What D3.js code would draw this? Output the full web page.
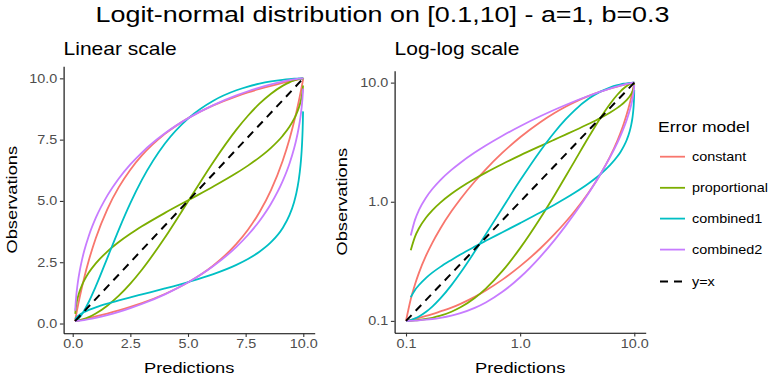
<!DOCTYPE html>
<html>
<head>
<meta charset="utf-8">
<script src="https://cdn.jsdelivr.net/npm/d3@7/dist/d3.min.js"></script>
<style>
  body { margin: 0; background: #ffffff; }
  svg text { font-family: "Liberation Sans", Arial, sans-serif; }
</style>
</head>
<body>
<script>
//x values shared by every curve (predictions)
var predictions = [
    0.1, 0.11, 0.12, 0.13, 0.15, 0.17, 0.2, 0.25, 0.3, 0.4, 0.5, 0.7, 1, 1.5, 2, 2.5, 3, 4,
    5.05,
    6.1, 7.1, 7.6, 8.1, 8.6, 9.1, 9.4, 9.6, 9.7, 9.8, 9.85, 9.9, 9.93, 9.95, 9.97, 9.98, 9.99, 10];

//observations, two curves per error model (null = not drawn)
var constant1 = [
    0.1, 0.152, 0.203, 0.254, 0.354, 0.452, 0.597, 0.831, 1.056, 1.48, 1.873, 2.58, 3.479, 4.658, 5.561, 6.275, 6.854, 7.733,
    8.398,
    8.896, 9.267, 9.424, 9.566, 9.695, 9.813, 9.878, 9.92, 9.941, 9.961, 9.971, 9.981, 9.986, 9.99, 9.994, 9.996, 9.998, 10];
var constant2 = [
    0.1, 0.102, 0.104, 0.106, 0.11, 0.114, 0.12, 0.129, 0.139, 0.159, 0.18, 0.222, 0.288, 0.405, 0.534, 0.676, 0.833, 1.204,
    1.702,
    2.367, 3.247, 3.825, 4.539, 5.442, 6.621, 7.52, 8.227, 8.62, 9.045, 9.269, 9.503, 9.648, 9.746, 9.847, 9.897, 9.948, 10];
var proportional1 = [
    0.1, 0.1003, 0.1009, 0.1017, 0.1037, 0.1061, 0.1105, 0.1194, 0.13, 0.1556, 0.1866, 0.2625, 0.4079, 0.7271, 1.135, 1.627, 2.194, 3.51,
    5.05,
    6.59, 7.906, 8.473, 8.965, 9.373, 9.692, 9.838, 9.913, 9.944, 9.97, 9.981, 9.99, 9.994, 9.996, 9.998, 9.999, 10, 10];
var proportional2 = [
    null, 0.392, 0.51, 0.599, 0.738, 0.848, 0.984, 1.166, 1.316, 1.559, 1.757, 2.077, 2.452, 2.934, 3.324, 3.66, 3.963, 4.512,
    5.05,
    5.588, 6.137, 6.44, 6.777, 7.166, 7.649, 8.023, 8.343, 8.541, 8.784, 8.934, 9.116, 9.252, 9.362, 9.501, 9.59, 9.708, null];
var combined1a = [
    0.1, 0.1017, 0.1049, 0.1089, 0.1192, 0.1317, 0.1542, 0.1995, 0.2533, 0.3815, 0.5326, 0.8877, 1.512, 2.669, 3.833, 4.91, 5.857, 7.341,
    8.398,
    9.088, 9.513, 9.663, 9.782, 9.873, 9.939, 9.968, 9.983, 9.989, 9.994, 9.996, 9.998, 9.999, 9.999, 10, 10, 10, 10];
var combined1b = [
    null, 0.158, 0.182, 0.2, 0.23, 0.254, 0.284, 0.325, 0.361, 0.42, 0.47, 0.555, 0.662, 0.812, 0.944, 1.068, 1.189, 1.43,
    1.702,
    2.016, 2.394, 2.633, 2.927, 3.316, 3.887, 4.418, 4.95, 5.323, 5.838, 6.191, 6.665, 7.055, 7.397, 7.864, 8.189, 8.652, null];
var combined2a = [
    null, 0.52, 0.708, 0.854, 1.087, 1.278, 1.52, 1.85, 2.127, 2.586, 2.965, 3.583, 4.305, 5.215, 5.917, 6.49, 6.974, 7.757,
    8.398,
    8.91, 9.304, 9.473, 9.623, 9.755, 9.868, 9.925, 9.957, 9.971, 9.984, 9.989, 9.994, 9.996, 9.998, 9.999, 9.999, 10, 10];
var combined2b = [
    0.1, 0.1002, 0.1006, 0.1011, 0.1023, 0.1037, 0.1062, 0.1109, 0.1163, 0.1287, 0.1429, 0.1754, 0.2323, 0.345, 0.4769, 0.6273, 0.7956, 1.19,
    1.702,
    2.343, 3.126, 3.61, 4.183, 4.885, 5.795, 6.517, 7.135, 7.514, 7.973, 8.25, 8.58, 8.822, 9.013, 9.247, 9.393, 9.58, null];

//y = x reference line end points
var identity = [0.1, 10];

//legend / series names and ggplot hue colours
var modelNames = ["constant", "proportional", "combined1", "combined2"];
var modelColors = ["#F8766D", "#7CAE00", "#00BFC4", "#C77CFF"];

//tick labels
var linearTicks = [0, 2.5, 5, 7.5, 10];
var logTicks = [0.1, 1, 10];

var titleText = "Logit-normal distribution on [0.1,10] - a=1, b=0.3";

drawChart();

function drawChart() {
    var width = 768,
        height = 377,
        sx = 1.18; //text in the reference is drawn a bit wide

    var svg = d3.select("body")
        .append("svg")
        .attr("width", width)
        .attr("height", height);

    var series = [
        {name: modelNames[0], color: modelColors[0], curves: [constant1, constant2]},
        {name: modelNames[1], color: modelColors[1], curves: [proportional1, proportional2]},
        {name: modelNames[2], color: modelColors[2], curves: [combined1a, combined1b]},
        {name: modelNames[3], color: modelColors[3], curves: [combined2a, combined2b]}
    ];

    //helper for (horizontally stretched) labels
    function label(parent, str, x, y, size, anchor, color, rotate) {
        return parent.append("text")
            .attr("transform", "translate(" + x + "," + y + ")" + (rotate ? " rotate(-90)" : "") + " scale(" + sx + ",1)")
            .attr("text-anchor", anchor)
            .attr("font-size", size)
            .attr("fill", color)
            .text(str);
    }

    //main title
    label(svg, titleText, 382.5, 22, 22.8, "middle", "#000");

    //linear panel
    drawPanel({
        x: d3.scaleLinear().domain([-0.395, 10.495]).range([63.6, 314.7]),
        y: d3.scaleLinear().domain([-0.395, 10.495]).range([333.2, 66.2]),
        ticks: linearTicks,
        subtitle: "Linear scale",
        ytitleX: 17
    });

    //log-log panel
    drawPanel({
        x: d3.scaleLog().domain([Math.pow(10, -1.1), Math.pow(10, 1.1)]).range([394.6, 645.7]),
        y: d3.scaleLog().domain([Math.pow(10, -1.1), Math.pow(10, 1.1)]).range([332.8, 70.7]),
        ticks: logTicks,
        subtitle: "Log-log scale",
        ytitleX: 347
    });

    function drawPanel(cfg) {
        var x = cfg.x, y = cfg.y;
        var g = svg.append("g");
        var x0 = x.range()[0], x1 = x.range()[1],
            yb = y.range()[0], yt = y.range()[1];

        var line = d3.line()
            .defined(function(d) { return d[1] != null; })
            .x(function(d) { return x(d[0]); })
            .y(function(d) { return y(d[1]); })
            .curve(d3.curveMonotoneX);

        series.forEach(function(s) {
            s.curves.forEach(function(vals) {
                g.append("path")
                    .datum(predictions.map(function(p, i) { return [p, vals[i]]; }))
                    .attr("d", line)
                    .attr("fill", "none")
                    .attr("stroke", s.color)
                    .attr("stroke-width", 1.8);
            });
        });

        //dashed y = x line
        g.append("path")
            .datum(identity.map(function(v) { return [v, v]; }))
            .attr("d", line)
            .attr("fill", "none")
            .attr("stroke", "#000")
            .attr("stroke-width", 2)
            .attr("stroke-dasharray", "8,6");

        //axes
        var xAxis = g.append("g")
            .attr("transform", "translate(0," + yb + ")")
            .call(d3.axisBottom(x).tickValues(cfg.ticks).tickFormat(d3.format(".1f"))
                .tickSize(3.7).tickPadding(2.4).tickSizeOuter(0));
        var yAxis = g.append("g")
            .attr("transform", "translate(" + x0 + ",0)")
            .call(d3.axisLeft(y).tickValues(cfg.ticks).tickFormat(d3.format(".1f"))
                .tickSize(3.7).tickPadding(2.4).tickSizeOuter(0));

        [xAxis, yAxis].forEach(function(ax) {
            ax.attr("font-family", null).attr("font-size", null);
            ax.select(".domain").attr("stroke", "#000").attr("stroke-width", 1.1);
            ax.selectAll(".tick line").attr("stroke", "#333333").attr("stroke-width", 1.1);
            ax.selectAll(".tick text")
                .attr("fill", "#4D4D4D")
                .attr("font-size", 12.2);
        });
        xAxis.selectAll(".tick text").attr("transform", "scale(" + sx + ",1)");
        yAxis.selectAll(".tick text")
            .attr("x", 0)
            .attr("transform", "translate(-6.3,0) scale(" + sx + ",1)");

        //titles
        label(g, cfg.subtitle, x0, 55, 17.8, "start", "#000");
        label(g, "Predictions", (x0 + x1) / 2, 373, 15.5, "middle", "#000");
        label(g, "Observations", cfg.ytitleX, (yb + yt) / 2, 15.5, "middle", "#000", true);
    }

    //legend
    var legend = svg.append("g");
    label(legend, "Error model", 658, 132, 14.9, "start", "#000");
    var rows = [156.7, 187.8, 218.6, 249.6, 281.5];
    var items = modelNames.map(function(n, i) { return {name: n, color: modelColors[i], dash: null}; });
    items.push({name: "y=x", color: "#000", dash: "8,6"});
    items.forEach(function(it, i) {
        legend.append("line")
            .attr("x1", 660).attr("x2", 685)
            .attr("y1", rows[i]).attr("y2", rows[i])
            .attr("stroke", it.color)
            .attr("stroke-width", it.dash ? 2 : 1.8)
            .attr("stroke-dasharray", it.dash);
        label(legend, it.name, 692, rows[i] + 4.3, 12.2, "start", "#000");
    });
}
</script>
</body>
</html>
